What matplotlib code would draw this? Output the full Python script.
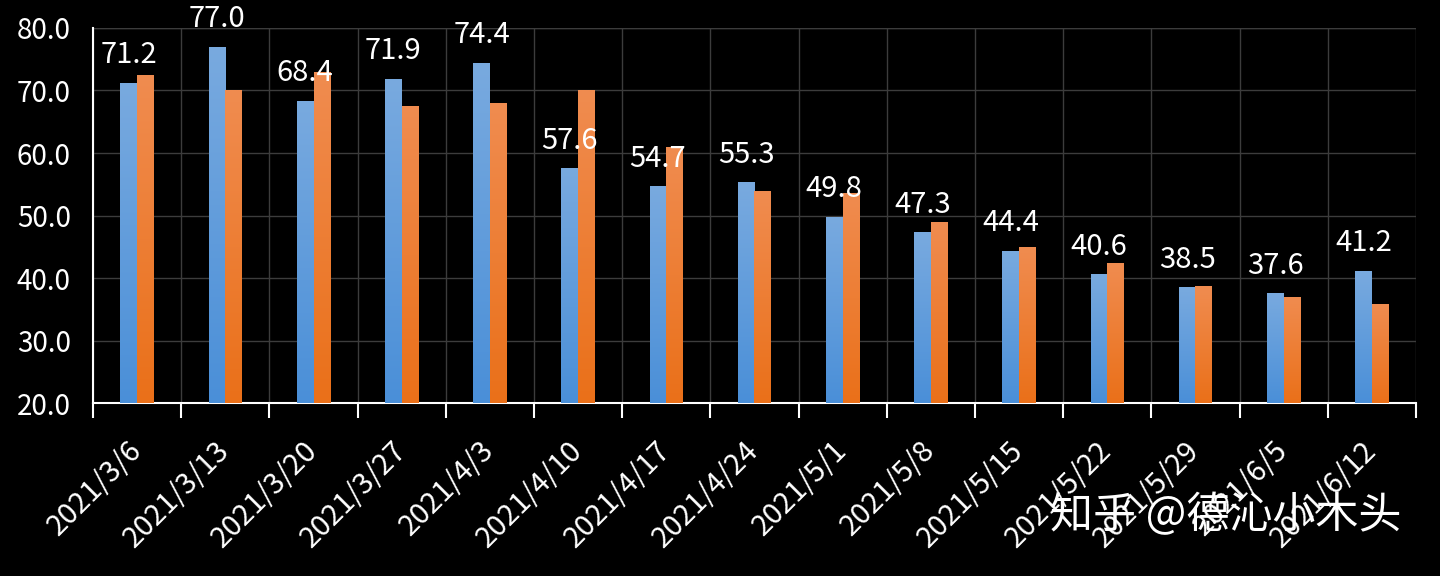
import numpy as np
import matplotlib
matplotlib.use("Agg")
import matplotlib.pyplot as plt
from matplotlib.colors import LinearSegmentedColormap

plt.rcParams['font.family'] = ['Noto Sans CJK SC', 'DejaVu Sans']

dates = ["2021/3/6", "2021/3/13", "2021/3/20", "2021/3/27", "2021/4/3",
         "2021/4/10", "2021/4/17", "2021/4/24", "2021/5/1", "2021/5/8",
         "2021/5/15", "2021/5/22", "2021/5/29", "2021/6/5", "2021/6/12"]
blue_vals = [71.2, 77.0, 68.4, 71.9, 74.4, 57.6, 54.7, 55.3, 49.8, 47.3,
             44.4, 40.6, 38.5, 37.6, 41.2]
orange_vals = [72.5, 70.0, 73.0, 67.5, 68.0, 70.0, 61.0, 53.9, 53.6, 49.0,
               44.9, 42.4, 38.7, 37.0, 35.8]

fig = plt.figure(figsize=(14.4, 5.76), dpi=100, facecolor="black")
ax = fig.add_axes([0.0646, 0.3003, 0.9187, 0.6511])
ax.set_facecolor("black")

x = np.arange(len(dates))
w = 0.19
ymin, ymax = 20, 80

blue_cmap = LinearSegmentedColormap.from_list("b", ["#4a8fd8", "#79aadf"])
orange_cmap = LinearSegmentedColormap.from_list("o", ["#ea7019", "#f08c50"])

bars_b = ax.bar(x - w / 2, blue_vals, w, color="#5b9bd5", zorder=3)
bars_o = ax.bar(x + w / 2, orange_vals, w, color="#ed7d31", zorder=3)

# vertical gradient fill inside every bar
grad = np.linspace(0, 1, 256).reshape(-1, 1)
for bars, cmap in [(bars_b, blue_cmap), (bars_o, orange_cmap)]:
    for b in bars:
        x0 = b.get_x()
        top = b.get_height()
        im = ax.imshow(grad, extent=[x0, x0 + b.get_width(), ymin, top],
                       origin="lower", aspect="auto", cmap=cmap, zorder=4)
        im.set_clip_path(b)

for xi, v in zip(x, blue_vals):
    ax.annotate(f"{v:.1f}", (xi - w / 2, v), xytext=(0, 9),
                textcoords="offset points", ha="center", va="bottom",
                color="white", fontsize=21, zorder=6)

ax.set_xlim(-0.5, len(dates) - 0.5)
ax.set_ylim(ymin, ymax)

ax.set_yticks(np.arange(20, 81, 10))
ax.set_yticklabels([f"{t:.1f}" for t in range(20, 81, 10)])
ax.set_xticks(x)
ax.set_xticklabels(dates, rotation=45, ha="right", va="center",
                   rotation_mode="anchor")
ax.set_xticks(np.arange(-0.5, len(dates)), minor=True)

ax.tick_params(axis="y", length=0, pad=16, labelsize=20, labelcolor="white")
ax.tick_params(axis="x", which="major", length=0, pad=31, labelsize=21,
               labelcolor="white")
ax.tick_params(axis="x", which="minor", length=11, width=1.5, color="white",
               direction="out")

ax.grid(True, axis="y", color="#3c3c3c", linewidth=1, zorder=0)
ax.grid(True, axis="x", which="minor", color="#3c3c3c", linewidth=1, zorder=0)
ax.grid(False, axis="x", which="major")

for side in ["top", "right"]:
    ax.spines[side].set_visible(False)
ax.spines["left"].set_color("white")
ax.spines["left"].set_linewidth(1.5)
ax.spines["bottom"].set_color("white")
ax.spines["bottom"].set_linewidth(1.5)
ax.axhline(ymax, color="#3c3c3c", linewidth=1, zorder=0)

fig.text(0.973, 0.104, "知乎 @德沁小木头", color="white", fontsize=31,
         ha="right", va="center", zorder=10)

fig.savefig("out.png", dpi=100, facecolor="black")
